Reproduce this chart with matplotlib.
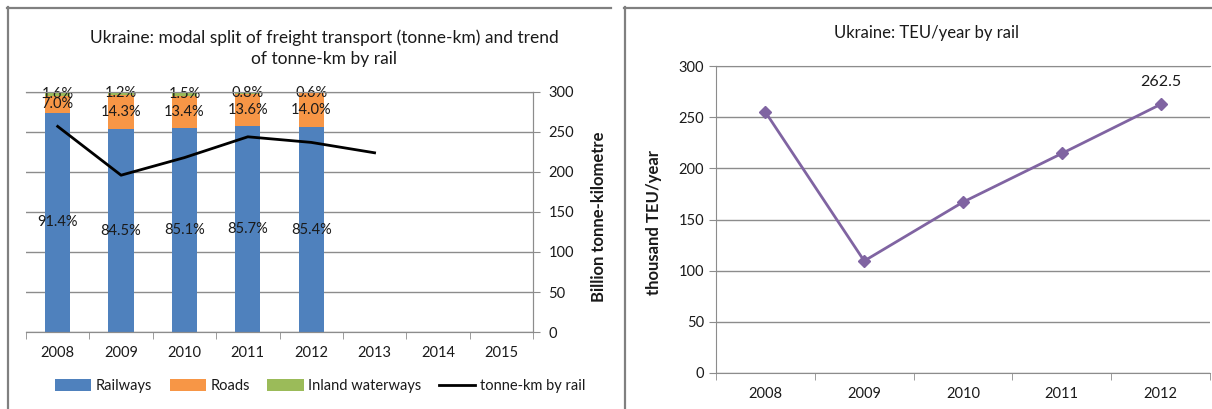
import matplotlib.pyplot as plt
from matplotlib.lines import Line2D
import numpy as np

plt.rcParams['font.family'] = ['Lato', 'DejaVu Sans']

# modal split (share of tonne-km, %) and rail tonne-km (billion)
years = ['2008', '2009', '2010', '2011', '2012', '2013', '2014', '2015']
railways = [91.4, 84.5, 85.1, 85.7, 85.4]
roads = [7.0, 14.3, 13.4, 13.6, 14.0]
inland = [1.6, 1.2, 1.5, 0.8, 0.6]
rail_tkm = [257, 196, 218, 244, 237, 224]

# TEU by rail (thousand)
teu_years = ['2008', '2009', '2010', '2011', '2012']
teu = [255, 109.5, 167, 214.5, 262.5]

W, H = 1212, 409
fig = plt.figure(figsize=(W / 100, H / 100), dpi=100)

grid_c = '#8c8c8c'
frame_c = '#808080'
txt_c = '#1a1a1a'

def fx(px):
    return px / W

def fy(py):
    return 1 - py / H

# panel frames
for x0, x1 in [(7, 611), (624, 1212)]:
    fig.add_artist(Line2D([fx(x0), fx(x1)], [fy(7.5), fy(7.5)], color=frame_c, lw=1.6))
    fig.add_artist(Line2D([fx(x0 + 0.5), fx(x0 + 0.5)], [fy(7), fy(409)], color=frame_c, lw=1.6))

# ---- left chart: stacked shares + rail tonne-km
ax = fig.add_axes([fx(26), fy(332), fx(533 - 26), (332 - 92) / H])
ax2 = ax.twinx()

x = np.arange(len(years))
xb = x[:len(railways)]
bw = 0.4
b1 = ax.bar(xb, railways, bw, color='#4F81BD', label='Railways', zorder=2)
b2 = ax.bar(xb, roads, bw, bottom=railways, color='#F79646', label='Roads', zorder=2)
bot3 = np.array(railways) + np.array(roads)
b3 = ax.bar(xb, inland, bw, bottom=bot3, color='#9BBB59', label='Inland waterways', zorder=2)

for i in range(len(railways)):
    ax.text(xb[i], railways[i] / 2, f'{railways[i]:.1f}%', ha='center', va='center',
            fontsize=10.5, color=txt_c, zorder=5)
    ax.text(xb[i], railways[i] + roads[i] / 2, f'{roads[i]:.1f}%', ha='center', va='center',
            fontsize=10.5, color=txt_c, zorder=5)
    ax.text(xb[i], bot3[i] + inland[i] / 2, f'{inland[i]:.1f}%', ha='center', va='center',
            fontsize=10.5, color=txt_c, zorder=5)

ax.set_xlim(-0.5, len(years) - 0.5)
ax.set_ylim(0, 100)
ax.set_yticks(np.linspace(0, 100, 7))
ax.yaxis.grid(True, color=grid_c, lw=1)
ax.set_axisbelow(True)
ax.tick_params(axis='y', which='both', left=False, right=False, labelleft=False, labelright=False)
ax.set_xticks(x)
ax.set_xticklabels(years, fontsize=10.5, color=txt_c)
ax.set_xticks(np.arange(-0.5, len(years)), minor=True)
ax.tick_params(axis='x', which='major', length=0, pad=10)
ax.tick_params(axis='x', which='minor', length=5, color=grid_c)
for s in ax.spines.values():
    s.set_color(grid_c)
ax.spines['left'].set_visible(False)

ln, = ax2.plot(x[:len(rail_tkm)], rail_tkm, color='black', lw=2, label='tonne-km by rail')
ax2.set_ylim(0, 300)
ax2.set_yticks(range(0, 301, 50))
ax2.tick_params(axis='y', left=False, length=5, color=grid_c, labelsize=10.5, labelcolor=txt_c, pad=6)
ax2.set_ylabel('Billion tonne-kilometre', fontsize=12, fontweight='bold', color=txt_c)
ax2.yaxis.set_label_coords(1.115, 0.48)
for s in ax2.spines.values():
    s.set_color(grid_c)
ax2.spines['left'].set_visible(False)

fig.text(fx(324), fy(48), 'Ukraine: modal split of freight transport (tonne-km) and trend\nof tonne-km by rail',
         ha='center', va='center', fontsize=12.5, color=txt_c, linespacing=1.35)

fig.legend(handles=[b1, b2, b3, ln], loc='center', bbox_to_anchor=(fx(320), fy(386)), ncol=4,
           frameon=False, fontsize=10.5, handlelength=2.5, handleheight=0.9, columnspacing=1.2,
           handletextpad=0.3, labelcolor=txt_c)

# ---- right chart: TEU/year by rail
axr = fig.add_axes([fx(716), fy(373), fx(1210 - 716), (373 - 66) / H])
xt = np.arange(len(teu_years))
axr.plot(xt, teu, color='#8064A2', lw=2, marker='D', markersize=6)
axr.annotate(f'{teu[-1]:.1f}', (xt[-1], teu[-1]), xytext=(0, 11), textcoords='offset points',
             ha='center', va='bottom', fontsize=11.5, color=txt_c)
axr.set_xlim(-0.5, len(teu_years) - 0.5)
axr.set_ylim(0, 300)
axr.set_yticks(range(0, 301, 50))
axr.yaxis.grid(True, color=grid_c, lw=1)
axr.set_axisbelow(True)
axr.set_xticks(xt)
axr.set_xticklabels(teu_years, fontsize=10.5, color=txt_c)
axr.set_xticks(np.arange(-0.5, len(teu_years)), minor=True)
axr.tick_params(axis='x', which='major', length=0, pad=10)
axr.tick_params(axis='x', which='minor', length=5, color=grid_c)
axr.tick_params(axis='y', length=5, color=grid_c, labelsize=10.5, labelcolor=txt_c)
axr.spines['right'].set_visible(False)
for s in ['left', 'bottom', 'top']:
    axr.spines[s].set_color(grid_c)
axr.set_ylabel('thousand TEU/year', fontsize=12, fontweight='bold', color=txt_c)
axr.yaxis.set_label_coords(-0.11, 0.49)

fig.text(fx(927), fy(33), 'Ukraine: TEU/year by rail', ha='center', va='center', fontsize=12, color=txt_c)

fig.savefig('out.png', dpi=100)
